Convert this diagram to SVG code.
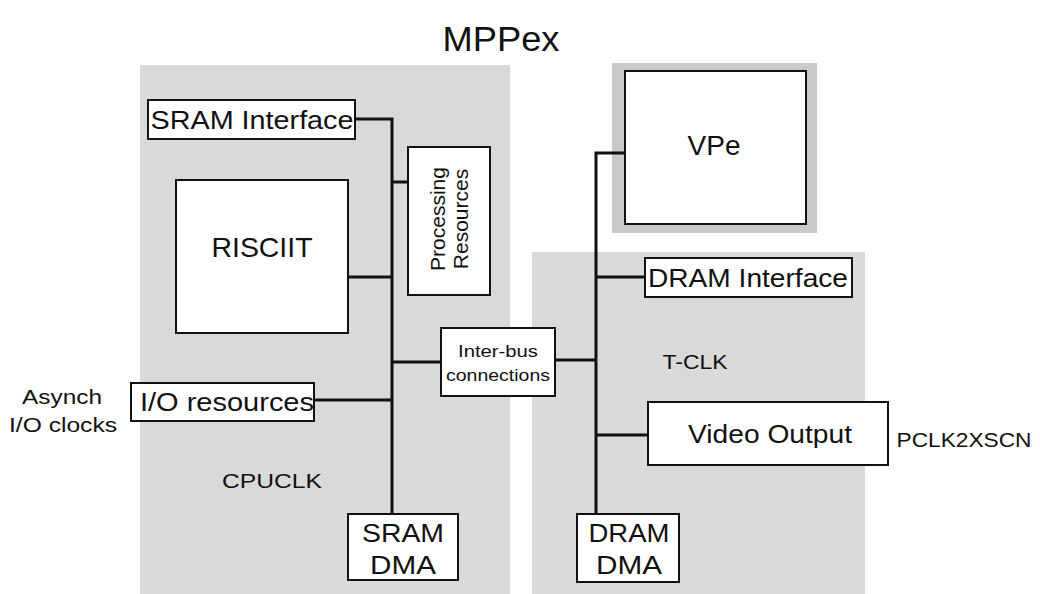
<svg xmlns="http://www.w3.org/2000/svg" width="1040" height="594" viewBox="0 0 1040 594">
<style>
text{font-family:"Liberation Sans",Arial,sans-serif;fill:#111;text-anchor:middle}
.box{fill:#fff;stroke:#111;stroke-width:2}
.panel{fill:#d9d9d9}
.bus{stroke:#111;stroke-width:3;fill:none}
.lbl{font-size:21px}
.big{font-size:26px}
</style>
<rect width="1040" height="594" fill="#fff"/>
<g id="panels">
<rect class="panel" x="140" y="65" width="370" height="529"/>
<rect class="panel" x="532" y="252" width="333" height="342"/>
<rect x="612" y="63" width="205" height="170" fill="#c9c9c9"/>
</g>
<text x="501" y="51" style="font-size:35px" textLength="117" lengthAdjust="spacingAndGlyphs">MPPex</text>
<text class="lbl" x="687" y="85" textLength="66" lengthAdjust="spacingAndGlyphs">VPCLK</text>
<text class="lbl" x="272" y="488" textLength="100" lengthAdjust="spacingAndGlyphs">CPUCLK</text>
<text class="lbl" x="695" y="369" textLength="65" lengthAdjust="spacingAndGlyphs">T-CLK</text>
<text class="lbl" x="964" y="447" textLength="135" lengthAdjust="spacingAndGlyphs">PCLK2XSCN</text>
<text class="lbl" x="62" y="404" textLength="80" lengthAdjust="spacingAndGlyphs">Asynch</text>
<text class="lbl" x="63" y="432" textLength="108" lengthAdjust="spacingAndGlyphs">I/O clocks</text>
<g id="connectors">
<path class="bus" d="M355 119H392V514"/>
<path class="bus" d="M392 182H408"/>
<path class="bus" d="M348 277H392"/>
<path class="bus" d="M392 362H441"/>
<path class="bus" d="M314 400H392"/>
<path class="bus" d="M625 153H596V514"/>
<path class="bus" d="M555 360H596"/>
<path class="bus" d="M596 277H645"/>
<path class="bus" d="M596 435H648"/>
</g>
<g id="sram-interface"><rect class="box" x="148" y="100" width="207" height="39"/><text class="big" x="252" y="129" textLength="203" lengthAdjust="spacingAndGlyphs">SRAM Interface</text></g>
<g id="processing"><rect class="box" x="408" y="147" width="82" height="148"/><text class="lbl" transform="translate(449 219) rotate(-90)"><tspan x="0" y="-4">Processing</tspan><tspan x="0" y="19">Resources</tspan></text></g>
<g id="risciit"><rect class="box" x="176" y="180" width="172" height="153"/><text style="font-size:28px" x="262" y="257" textLength="101" lengthAdjust="spacingAndGlyphs">RISCIIT</text></g>
<g id="interbus"><rect class="box" x="441" y="328" width="114" height="68"/><text style="font-size:17px" x="498" y="357" textLength="80" lengthAdjust="spacingAndGlyphs">Inter-bus</text><text style="font-size:17px" x="498" y="381" textLength="104" lengthAdjust="spacingAndGlyphs">connections</text></g>
<g id="io"><rect class="box" x="131" y="383" width="183" height="38"/><text class="big" x="227" y="411" textLength="174" lengthAdjust="spacingAndGlyphs">I/O resources</text></g>
<g id="sram-dma"><rect class="box" x="348" y="514" width="110" height="66"/><text class="big" x="403" y="542" textLength="82" lengthAdjust="spacingAndGlyphs">SRAM</text><text class="big" x="403" y="574" textLength="66" lengthAdjust="spacingAndGlyphs">DMA</text></g>
<g id="vpe"><rect class="box" x="625" y="71" width="181" height="153"/><text style="font-size:28px" x="714" y="155" textLength="53" lengthAdjust="spacingAndGlyphs">VPe</text></g>
<g id="dram-interface"><rect class="box" x="645" y="258" width="207" height="39"/><text class="big" x="748" y="287" textLength="200" lengthAdjust="spacingAndGlyphs">DRAM Interface</text></g>
<g id="video"><rect class="box" x="648" y="402" width="240" height="63"/><text style="font-size:25px" x="770" y="443" textLength="164" lengthAdjust="spacingAndGlyphs">Video Output</text></g>
<g id="dram-dma"><rect class="box" x="577" y="514" width="102" height="68"/><text class="big" x="629" y="542" textLength="81" lengthAdjust="spacingAndGlyphs">DRAM</text><text class="big" x="629" y="574" textLength="66" lengthAdjust="spacingAndGlyphs">DMA</text></g>
</svg>
